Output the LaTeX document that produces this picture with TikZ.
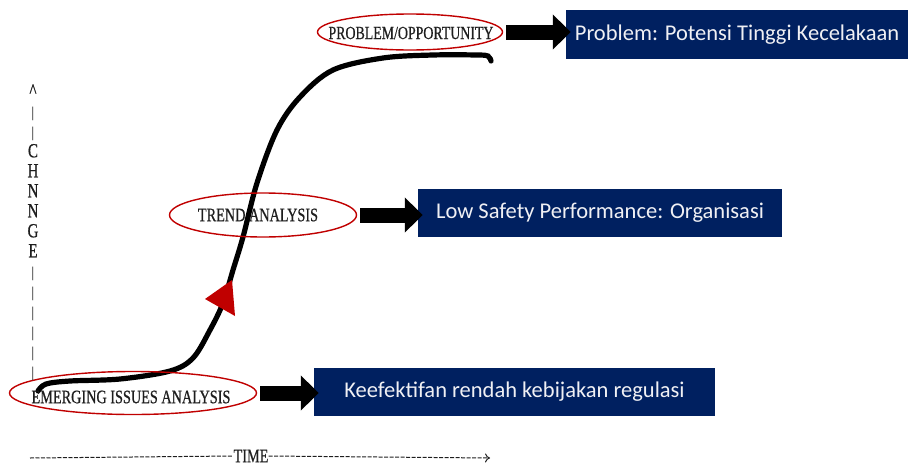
\documentclass[tikz,border=0pt]{standalone}
\usepackage{fontspec}
\setmainfont{Liberation Serif}
\newfontfamily\boxfont{Carlito}
\newfontfamily\oldfont[FakeStretch=0.75,FakeBold=0.6]{Liberation Serif}
\usetikzlibrary{arrows.meta,positioning,shapes.geometric}
\definecolor{navy}{HTML}{002060}
\definecolor{redline}{HTML}{C00000}
\definecolor{paper}{HTML}{F0F0F4}
\definecolor{ink}{HTML}{1E1E1E}
\newcommand\tick{{\rmfamily\fontsize{15}{20}\selectfont|}}
\tikzset{
  stage/.style={draw=redline,line width=1.4pt,ellipse,inner sep=0pt},
  infobox/.style={fill=navy,text=paper,inner sep=0pt,
    font=\boxfont\fontsize{22.5}{26}\selectfont},
  blockarrow/.style={line width=15pt,draw=black,
    -{Triangle[length=18pt,width=34pt]},shorten <=3pt,shorten >=-5pt},
  axislabel/.style={font=\oldfont\fontsize{19}{20}\selectfont,text=ink,
    inner sep=0pt}
}
\begin{document}
\begin{tikzpicture}[x=1pt,y=-1pt]
\useasboundingbox (0,0) rectangle (908,466);

% s-curve of change over time
\draw[line width=5.2pt,line cap=round] plot[smooth,tension=0.55] coordinates
  {(38,391) (46,384) (70,381) (120,379) (170,371) (193,358) (210,330)
   (223,303) (233,270) (243,237) (257,183) (277,130) (300,97) (333,70)
   (383,58) (433,55) (477,55) (488,56) (491,61)};
\fill[redline] (232,280) -- (205,299) -- (235,316) -- cycle;

\node[stage,minimum width=247pt,minimum height=43pt] (emerg) at (133,393) {};
\node[axislabel] at (131,397) {EMERGING ISSUES ANALYSIS};
\node[stage,minimum width=187pt,minimum height=44pt] (trend) at (263,215) {};
\node[axislabel] at (258,215) {TREND ANALYSIS};
\node[stage,minimum width=185pt,minimum height=36pt] (probl) at (410,32) {};
\node[axislabel,font=\oldfont\fontsize{18.5}{20}\selectfont] at (411,33) {PROBLEM/OPPORTUNITY};

\node[infobox,minimum width=401pt,minimum height=48pt] (regulasi) at (514.5,392) {Keefektifan rendah kebijakan regulasi};
\node[infobox,minimum width=364pt,minimum height=48pt] (organisasi) at (600,213) {Low Safety Performance: Organisasi};
\node[infobox,minimum width=342pt,minimum height=49pt] (potensi) at (737,34.5) {Problem: Potensi Tinggi Kecelakaan};

\draw[blockarrow] (emerg.east) -- (emerg.east -| regulasi.west);
\draw[blockarrow] (trend.east) -- (trend.east -| organisasi.west);
\draw[blockarrow] (probl.east) -- (probl.east -| potensi.west);

% axes
\node[axislabel,align=center,anchor=north,font=\oldfont\fontsize{20}{20}\selectfont] (change) at (33,84)
  {\^{}\\\tick\\\tick\\C\\H\\N\\N\\G\\E\\\tick\\\tick\\\tick\\\tick\\\tick\\\tick};
\node[axislabel] (time) at (251,456) {TIME};
\coordinate (tstart) at (30,458);
\coordinate (tend) at (490,458);
\draw[ink,line width=1pt,dash pattern=on 4pt off 1.5pt] (tstart) -- (time.west);
\draw[ink,line width=1pt,dash pattern=on 4pt off 1.5pt,-{To[length=5pt,width=9pt]}] (time.east) -- (tend);
\end{tikzpicture}
\end{document}
